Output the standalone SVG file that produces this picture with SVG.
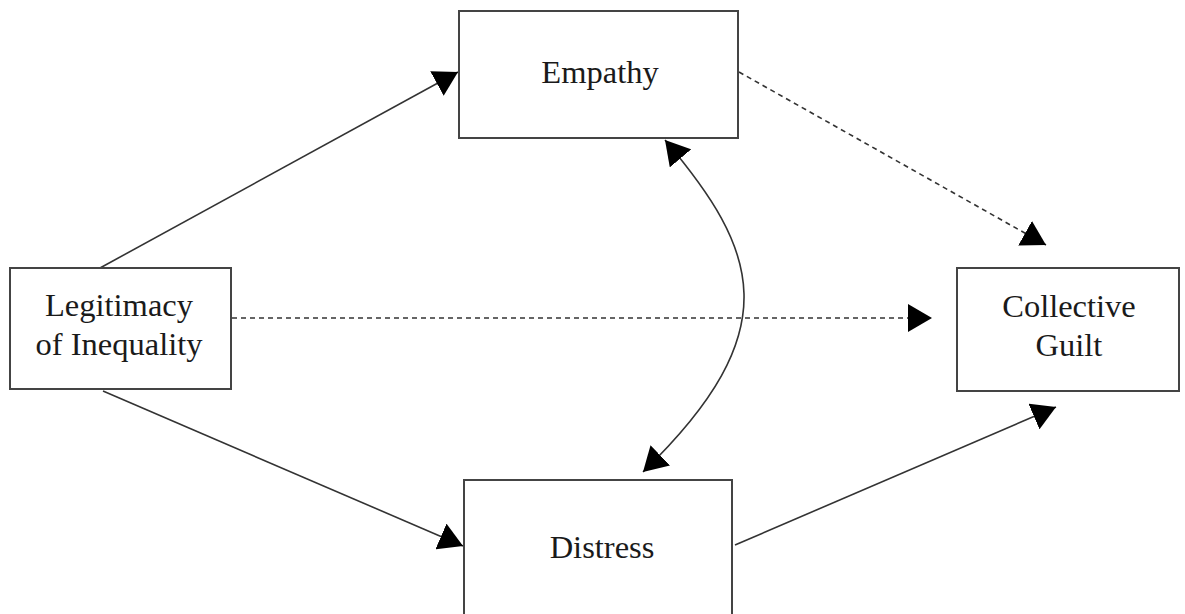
<svg xmlns="http://www.w3.org/2000/svg" width="1185" height="614" viewBox="0 0 1185 614">
  <style>
    .box { fill: #ffffff; stroke: #444; stroke-width: 2; }
    .label { font-family: "Liberation Serif", "Times New Roman", serif; font-size: 32.5px; fill: #1a1a1a; text-anchor: middle; }
    .edge { fill: none; stroke: #333; stroke-width: 1.6; }
    .dashed { stroke-dasharray: 5 4; }
  </style>
  <defs>
    <marker id="arrow" viewBox="0 0 24 28" refX="24" refY="14" markerWidth="24" markerHeight="28" markerUnits="userSpaceOnUse" orient="auto-start-reverse">
      <path d="M0,0 L24,14 L0,28 Z" fill="#000"/>
    </marker>
  </defs>
  <rect width="1185" height="614" fill="#ffffff"/>

  <g id="connectors">
    <line class="edge" x1="100" y1="268" x2="458" y2="72" marker-end="url(#arrow)"/>
    <line class="edge dashed" x1="232" y1="318" x2="932" y2="318" marker-end="url(#arrow)"/>
    <line class="edge" x1="103" y1="391" x2="463" y2="546" marker-end="url(#arrow)"/>
    <line class="edge" x1="735" y1="545" x2="1056" y2="407" marker-end="url(#arrow)"/>
    <line class="edge dashed" x1="739" y1="72" x2="1046" y2="245" marker-end="url(#arrow)"/>
    <path class="edge" d="M665,140 C758,250 790,330 643,472" marker-start="url(#arrow)" marker-end="url(#arrow)"/>
  </g>

  <g id="node-empathy">
    <rect class="box" x="459" y="11" width="279" height="127"/>
    <text class="label" x="600" y="83">Empathy</text>
  </g>
  <g id="node-legitimacy">
    <rect class="box" x="10" y="268" width="221" height="121"/>
    <text class="label" x="119" y="316">Legitimacy</text>
    <text class="label" x="119" y="355">of Inequality</text>
  </g>
  <g id="node-guilt">
    <rect class="box" x="957" y="268" width="222" height="123"/>
    <text class="label" x="1069" y="317">Collective</text>
    <text class="label" x="1069" y="356">Guilt</text>
  </g>
  <g id="node-distress">
    <rect class="box" x="464" y="480" width="268" height="150"/>
    <text class="label" x="602" y="558">Distress</text>
  </g>
</svg>
